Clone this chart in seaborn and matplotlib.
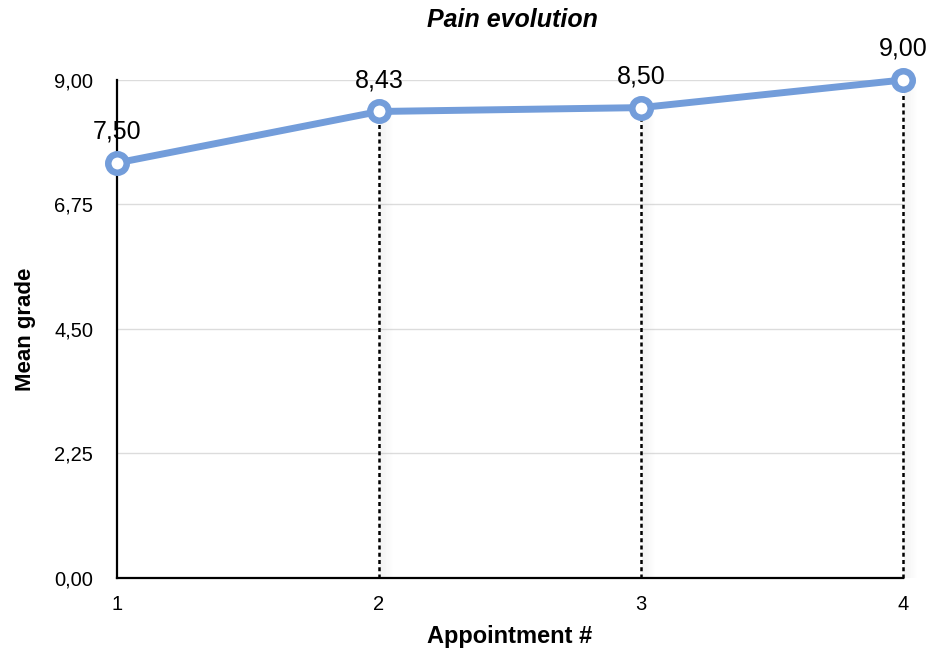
import matplotlib
matplotlib.use("Agg")
import matplotlib.pyplot as plt
import seaborn as sns
import pandas as pd

appointments = [1, 2, 3, 4]
mean_grades = [7.50, 8.43, 8.50, 9.00]
y_ticks = [0.0, 2.25, 4.5, 6.75, 9.0]

df = pd.DataFrame({"Appointment #": appointments, "Mean grade": mean_grades})

sns.set_style("white")
plt.rcParams["font.family"] = ["Liberation Sans", "DejaVu Sans"]
plt.rcParams["text.color"] = "black"
plt.rcParams["axes.labelcolor"] = "black"
plt.rcParams["xtick.color"] = "black"
plt.rcParams["ytick.color"] = "black"

blue = "#739dda"


def fmt(v):
    return f"{v:.2f}".replace(".", ",")


fig = plt.figure(figsize=(9.32, 6.5), dpi=100)
ax = fig.add_axes([0.1255, 0.111, 0.8435, 0.766])

# soft shading to the right of the drop lines
for x, y in zip(appointments[1:], mean_grades[1:]):
    n = 14
    for i in range(n):
        x0 = x + 0.004 + i * 0.0035
        ax.fill_between([x0, x0 + 0.0035], 0, y, color="#a8a8a8",
                        alpha=0.13 * (1 - i / n), linewidth=0, zorder=1,
                        clip_on=False)
    ax.vlines(x, 0, y, colors="black", linestyles=(0, (1.6, 1.3)),
              linewidth=1.8, zorder=2, clip_on=False)

ax.grid(axis="y", color="#dcdcdc", linewidth=1, zorder=0)
ax.set_axisbelow(True)

sns.lineplot(data=df, x="Appointment #", y="Mean grade", ax=ax,
             color=blue, linewidth=5, marker="o", markersize=13.3,
             markerfacecolor="white", markeredgecolor=blue,
             markeredgewidth=4.7, zorder=5, clip_on=False)

for x, y in zip(appointments, mean_grades):
    ax.annotate(fmt(y), (x, y), xytext=(0, 22.5),
                textcoords="offset points", ha="center", va="center",
                fontsize=18, color="black")

ax.set_xlim(1, 4)
ax.set_ylim(0, 9)
ax.set_yticks(y_ticks)
ax.set_yticklabels([fmt(v) for v in y_ticks], fontsize=14.5)
ax.set_xticks(appointments)
ax.set_xticklabels([str(a) for a in appointments], fontsize=14.5)
ax.tick_params(axis="x", direction="out", length=5, width=1.2, color="black", pad=7)
ax.tick_params(axis="y", length=0, pad=17)

for side in ["top", "right"]:
    ax.spines[side].set_visible(False)
for side in ["left", "bottom"]:
    ax.spines[side].set_color("black")
    ax.spines[side].set_linewidth(1.6)

ax.set_xlabel("Appointment #", fontsize=17, fontweight="bold", labelpad=8)
ax.set_ylabel("Mean grade", fontsize=16, fontweight="bold", labelpad=13)
fig.text(512 / 932, 1 - 20 / 650, "Pain evolution", ha="center", va="center",
         fontsize=18, fontweight="bold", fontstyle="italic")

fig.savefig("out.png", dpi=100)
